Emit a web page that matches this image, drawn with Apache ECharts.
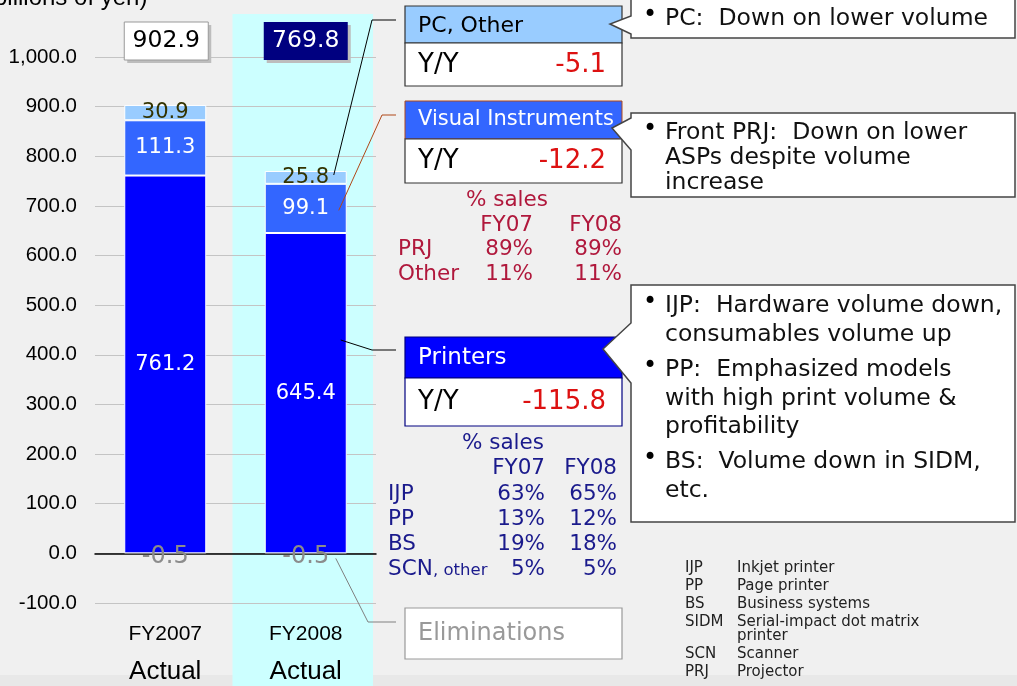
<!DOCTYPE html>
<html>
<head>
<meta charset="utf-8">
<script src="https://cdn.jsdelivr.net/npm/echarts@6/dist/echarts.min.js"></script>
<style>
html,body{margin:0;padding:0;background:#f0f0f0;}
#main{width:1017px;height:686px;}
</style>
</head>
<body>
<div id="main"></div>
<script>
// data (billions of yen)
var years = ['FY2007', 'FY2008'];
var yearNotes = ['Actual', 'Actual'];
var printers = [761.2, 645.4];
var visual = [111.3, 99.1];
var pcOther = [30.9, 25.8];
var elims = [-0.5, -0.5];
var totals = [902.9, 769.8];

var segNames = ['PC, Other', 'Visual Instruments', 'Printers'];
var segYY = ['-5.1', '-12.2', '-115.8'];

var shareHeads = ['FY07', 'FY08'];
var vsRows = ['PRJ', 'Other'];
var vsFY07 = ['89%', '11%'];
var vsFY08 = ['89%', '11%'];
var prRows = ['IJP', 'PP', 'BS', 'SCN'];
var prFY07 = ['63%', '13%', '19%', '5%'];
var prFY08 = ['65%', '12%', '18%', '5%'];

var noteLines1 = ['PC:  Down on lower volume'];
var noteLines2 = ['Front PRJ:  Down on lower', 'ASPs despite volume', 'increase'];
var noteLines3 = ['IJP:  Hardware volume down,', 'consumables volume up', 'PP:  Emphasized models',
  'with high print volume &', 'profitability', 'BS:  Volume down in SIDM,', 'etc.'];
var noteBullets3 = [true, false, true, false, false, true, false];

var glossAbbr = ['IJP', 'PP', 'BS', 'SIDM', '', 'SCN', 'PRJ'];
var glossText = ['Inkjet printer', 'Page printer', 'Business systems', 'Serial-impact dot matrix',
  'printer', 'Scanner', 'Projector'];

var FONT = 'DejaVu Sans';
var AXFONT = 'Liberation Sans';

var chart = echarts.init(document.getElementById('main'));

function segLabel(color) {
  return {
    show: true, position: 'inside', color: color, fontFamily: FONT, fontSize: 21,
    formatter: function (p) { return p.value.toFixed(1); }
  };
}

var option = {
  backgroundColor: '#f0f0f0',
  animation: false,
  grid: { left: 95, right: 641, top: 57, bottom: 83, containLabel: false, outerBoundsMode: 'none' },
  xAxis: {
    type: 'category',
    data: years,
    axisLine: { onZero: true, lineStyle: { color: '#000', width: 1.5 } },
    axisTick: { inside: true, length: 7, lineStyle: { color: '#000' } },
    axisLabel: {
      margin: 12,
      formatter: function (v, i) { return '{a|' + v + '}\n{b|' + yearNotes[i] + '}'; },
      rich: {
        a: { fontFamily: AXFONT, fontSize: 21, color: '#000', lineHeight: 38 },
        b: { fontFamily: AXFONT, fontSize: 26, color: '#000', lineHeight: 38 }
      }
    }
  },
  yAxis: {
    type: 'value', min: -100, max: 1000, interval: 100,
    axisLine: { show: false }, axisTick: { show: false },
    splitLine: { lineStyle: { color: '#c4c4c4' } },
    axisLabel: {
      margin: 18, fontFamily: AXFONT, fontSize: 20.5, color: '#000',
      formatter: function (v) { return v.toLocaleString('en-US', { minimumFractionDigits: 1, maximumFractionDigits: 1 }); }
    }
  },
  series: [
    { name: 'Printers', type: 'bar', stack: 't', barWidth: 82, data: printers,
      itemStyle: { color: '#0000ff', borderColor: '#fff', borderWidth: 1 }, label: segLabel('#fff') },
    { name: 'Visual Instruments', type: 'bar', stack: 't', barWidth: 82, data: visual,
      itemStyle: { color: '#3366ff', borderColor: '#fff', borderWidth: 1 }, label: segLabel('#fff') },
    { name: 'PC, Other', type: 'bar', stack: 't', barWidth: 82, data: pcOther,
      itemStyle: { color: '#99ccff', borderColor: '#fff', borderWidth: 1 }, label: segLabel('#333300') },
    { name: 'Eliminations', type: 'bar', stack: 't', barWidth: 82, data: elims,
      itemStyle: { color: '#999' },
      label: { show: true, position: 'inside', offset: [0, 3], color: '#8c8c8c', fontFamily: FONT, fontSize: 24,
        formatter: function (p) { return p.value.toFixed(1); } } }
  ]
};
chart.setOption(option);

// annotations placed around the plotted bars
var g = [];
function rect(x, y, w, h, fill, stroke, lw, z) {
  g.push({ type: 'rect', z: z || 5, shape: { x: x, y: y, width: w, height: h },
    style: { fill: fill, stroke: stroke || null, lineWidth: lw || 1 } });
}
function text(x, y, s, color, size, align, fam, z) {
  g.push({ type: 'text', z: z || 6, x: x, y: y,
    style: { text: s, fill: color, fontSize: size, fontFamily: fam || FONT, align: align || 'left', verticalAlign: 'middle' } });
}
function line(pts, color, lw) {
  g.push({ type: 'polyline', z: 4, shape: { points: pts }, style: { stroke: color, lineWidth: lw || 1, fill: null } });
}

var xs = years.map(function (y) { return chart.convertToPixel({ xAxisIndex: 0 }, y); });
var half = (xs[1] - xs[0]) / 2;
function py(v) { return chart.convertToPixel({ yAxisIndex: 0 }, v); }

// highlighted current year band
g.push({ type: 'rect', z: -1, shape: { x: xs[1] - half - 3, y: 14, width: half * 2, height: 672 },
  style: { fill: '#ccffff' } });
// bottom strip
g.push({ type: 'rect', z: -1, shape: { x: 0, y: 675, width: 1017, height: 11 }, style: { fill: '#e8e8e8' } });
g.push({ type: 'rect', z: 0, shape: { x: xs[1] - half - 3, y: 675, width: half * 2, height: 11 }, style: { fill: '#ccffff' } });

text(-14, -2, '(billions of yen)', '#000', 24, 'left', AXFONT);

// totals
rect(xs[0] - 38, 25, 84, 38, '#bdbdbd', null, 0, 4);
rect(xs[0] - 41, 22, 84, 38, '#fff', '#999', 1);
text(xs[0] + 1, 41, totals[0].toFixed(1), '#000', 23.5, 'center');
rect(xs[1] - 39, 25, 84, 38, '#bdbdbd', null, 0, 4);
rect(xs[1] - 42, 22, 84, 38, '#000080', null, 0);
text(xs[1], 41, totals[1].toFixed(1), '#fff', 23.5, 'center');

// connectors
var pcTop = py(printers[1] + visual[1] + pcOther[1]);
line([[xs[1] + 28, pcTop + 4], [372, 20], [396, 20]], '#000', 1);
line([[xs[1] + 33, py(printers[1] + visual[1] / 2) + 2], [382, 115], [396, 115]], '#b04818', 1);
line([[xs[1] + 35, 340], [372, 350], [396, 350]], '#000', 1);
line([[xs[1] + 30, py(0) + 5], [368, 622], [396, 622]], '#808080', 1);

// segment panels
var PX = 405, PW = 217;
rect(PX, 6, PW, 37, '#99ccff', '#333', 1.2);
rect(PX, 43, PW, 43, '#fff', '#333', 1.2);
text(418, 26, segNames[0], '#000', 22);
text(418, 65, 'Y/Y', '#000', 26);
text(606, 65, segYY[0], '#dd1111', 26, 'right');

rect(PX, 101, PW, 38, '#3366ff', '#b04818', 1);
rect(PX, 139, PW, 44, '#fff', '#333', 1.2);
text(418, 120, segNames[1], '#fff', 21);
text(418, 161, 'Y/Y', '#000', 26);
text(606, 161, segYY[1], '#dd1111', 26, 'right');

rect(PX, 337, PW, 41, '#0000ff', '#000080', 1.2);
rect(PX, 378, PW, 48, '#fff', '#000080', 1.2);
text(418, 358, segNames[2], '#fff', 23);
text(418, 402, 'Y/Y', '#000', 26);
text(606, 402, segYY[2], '#dd1111', 26, 'right');

rect(PX, 608, PW, 51, '#fff', '#999', 1.2);
text(418, 634, 'Eliminations', '#999', 24);

// share tables
var VC = '#b0183c';
var TS = 21.5;
text(507, 200, '% sales', VC, TS, 'center');
text(533, 225, shareHeads[0], VC, TS, 'right');
text(622, 225, shareHeads[1], VC, TS, 'right');
vsRows.forEach(function (r, i) {
  var y = 249 + i * 25;
  text(398, y, r, VC, TS);
  text(533, y, vsFY07[i], VC, TS, 'right');
  text(622, y, vsFY08[i], VC, TS, 'right');
});

var PC = '#1a1a8c';
text(503, 443, '% sales', PC, TS, 'center');
text(545, 468, shareHeads[0], PC, TS, 'right');
text(617, 468, shareHeads[1], PC, TS, 'right');
prRows.forEach(function (r, i) {
  var y = 494 + i * 25;
  text(388, y, r, PC, TS);
  text(545, y, prFY07[i], PC, TS, 'right');
  text(617, y, prFY08[i], PC, TS, 'right');
});
text(433, 571, ', other', PC, 16.5);

// callouts
function callout(y0, y1, pa, pb, tip, lines, bullets, step) {
  g.push({ type: 'polygon', z: 5, shape: { points: [[631, y0], [1015, y0], [1015, y1], [631, y1], [631, pb], tip, [631, pa]] },
    style: { fill: '#fff', stroke: '#444', lineWidth: 1.5 } });
  lines.forEach(function (s, i) {
    var y = step[i];
    if (bullets[i]) text(650, y - 3, '•', '#000', 24, 'center');
    text(665, y, s, '#111', 23.5);
  });
}
callout(-2, 38, 16, 34, [610, 24], noteLines1, [true], [19]);
callout(113, 197, 118, 150, [612, 128], noteLines2, [true, false, false], [133, 158, 183]);
callout(285, 522, 323, 383, [603, 349], noteLines3, noteBullets3, [306, 335, 370, 399, 427, 462, 491]);

// glossary
var gy = [568, 586, 604, 622, 636, 654, 672];
glossAbbr.forEach(function (a, i) {
  if (a) text(685, gy[i], a, '#222', 15);
  text(737, gy[i], glossText[i], '#222', 15);
});

chart.setOption({ graphic: { elements: g } });
</script>
</body>
</html>
